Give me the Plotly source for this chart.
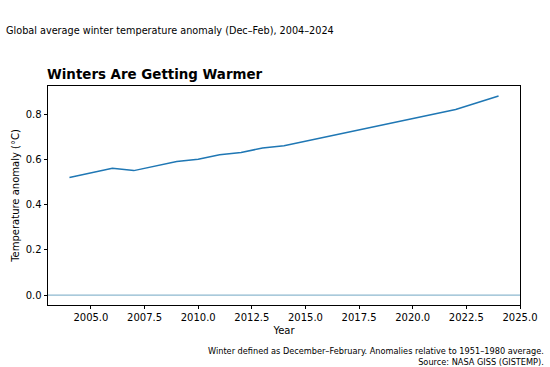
import plotly.graph_objects as go

years = list(range(2004, 2025))
anomaly = [0.52, 0.54, 0.56, 0.55, 0.57, 0.59, 0.60, 0.62, 0.63, 0.65, 0.66,
           0.68, 0.70, 0.72, 0.74, 0.76, 0.78, 0.80, 0.82, 0.85, 0.88]
x_ticks = [2005.0, 2007.5, 2010.0, 2012.5, 2015.0, 2017.5, 2020.0, 2022.5, 2025.0]
y_ticks = [0.0, 0.2, 0.4, 0.6, 0.8]

FONT = "DejaVu Sans"

fig = go.Figure()
fig.add_trace(go.Scatter(x=years, y=anomaly, mode="lines",
                         line=dict(color="#1f77b4", width=1.5), showlegend=False))
fig.add_hline(y=0, line=dict(color="#8db8cf", width=1.2))

fig.update_layout(
    width=550, height=367,
    margin=dict(l=48, r=28, t=86, b=62),
    paper_bgcolor="white", plot_bgcolor="white",
    font=dict(family=FONT, size=10, color="black"),
    showlegend=False,
)
fig.update_xaxes(range=[2003, 2025], tickvals=x_ticks, tickformat=".1f",
                 ticks="outside", ticklen=3.5, tickwidth=0.8, tickcolor="black",
                 showline=True, linecolor="black", linewidth=0.8, mirror=True,
                 showgrid=False, zeroline=False,
                 title=dict(text="Year", font=dict(size=10), standoff=4),
                 tickfont=dict(size=10))
fig.update_yaxes(range=[-0.044, 0.924], tickvals=y_ticks, tickformat=".1f",
                 ticks="outside", ticklen=3.5, tickwidth=0.8, tickcolor="black",
                 showline=True, linecolor="black", linewidth=0.8, mirror=True,
                 showgrid=False, zeroline=False,
                 title=dict(text="Temperature anomaly (°C)", font=dict(size=10), standoff=4),
                 tickfont=dict(size=10))

fig.add_annotation(text="Global average winter temperature anomaly (Dec–Feb), 2004–2024",
                   xref="paper", yref="paper", x=(4 - 48) / 474, y=1 + (86 - 30) / 219,
                   xanchor="left", yanchor="middle", showarrow=False,
                   font=dict(size=9.7, family=FONT))
fig.add_annotation(text="<b>Winters Are Getting Warmer</b>",
                   xref="paper", yref="paper", x=-3 / 474, y=1 + (86 - 75) / 219,
                   xanchor="left", yanchor="middle", showarrow=False,
                   font=dict(size=13.4, family=FONT))
fig.add_annotation(text="Winter defined as December–February. Anomalies relative to 1951–1980 average.<br>Source: NASA GISS (GISTEMP).",
                   xref="paper", yref="paper", x=1 + 26 / 474, y=-(356 - 305) / 219,
                   xanchor="right", yanchor="middle", align="right", showarrow=False,
                   font=dict(size=8.2, family=FONT))

fig.write_html("out.html", config={"displayModeBar": False},
               post_script="document.body.style.margin='0px';document.body.style.overflow='hidden';")
